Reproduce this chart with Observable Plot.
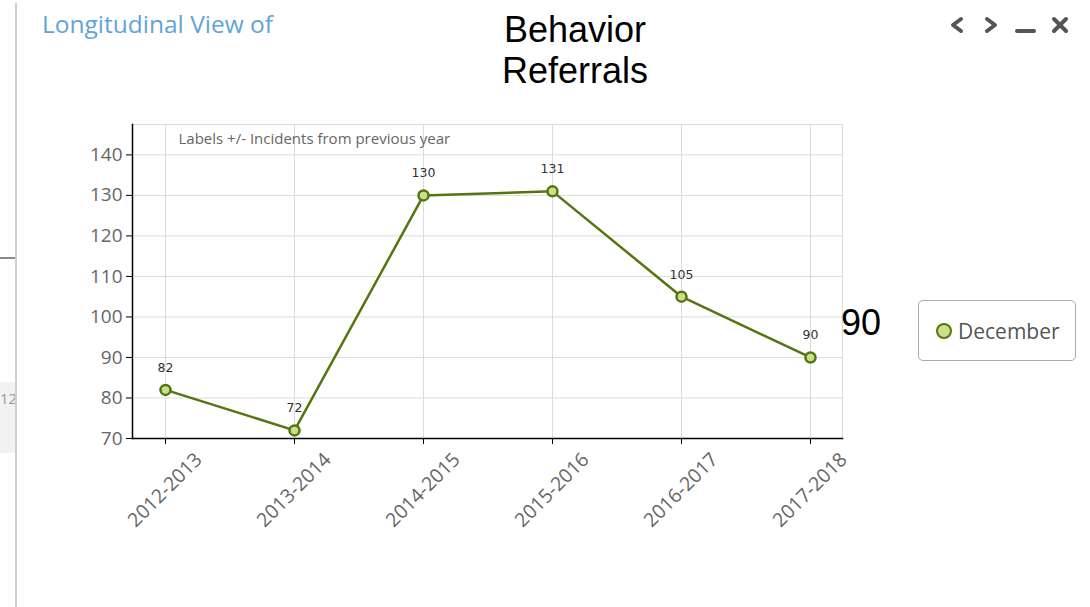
<!DOCTYPE html>
<html>
<head>
<meta charset="utf-8">
<script src="https://cdn.jsdelivr.net/npm/d3@7"></script>
<script src="https://cdn.jsdelivr.net/npm/@observablehq/plot@0.6"></script>
<style>
  html, body { margin: 0; padding: 0; background: #fff; width: 1090px; height: 607px; overflow: hidden; position: relative; }
  #chart { position: absolute; left: 0; top: 0; }
  .abs { position: absolute; white-space: nowrap; }
  #title { left: 42px; top: 8.5px; font: 24.5px/30px "Open Sans", sans-serif; color: #62a3d8; }
  #sub { left: 475px; width: 200px; top: 9px; text-align: center; font: 36px/41px "Liberation Sans", Arial, sans-serif; color: #000; }
  #last { left: 841px; top: 302px; font: 36px/41px "Liberation Sans", Arial, sans-serif; color: #000; }
  #legend { left: 918px; top: 300px; width: 156px; height: 59px; border: 1px solid #aaa; border-radius: 5px; display: flex; align-items: center; box-sizing: content-box; }
  #legend .sw { width: 12px; height: 12px; border-radius: 50%; background: #c8df8c; border: 2.5px solid #557510; margin-left: 17px; margin-right: 6px; }
  #legend .lbl { font: 21px "Open Sans", sans-serif; color: #555; }
  #leftline { left: 15px; top: 3px; width: 2px; height: 604px; background: #cfcfcf; }
  #dash { left: 0; top: 257px; width: 15px; height: 2px; background: #8a8a8a; }
  #box { left: 0; top: 382px; width: 15px; height: 71px; background: #f2f2f2; }
  #box span { position: absolute; left: 0; top: 6px; font: 15px "Open Sans", sans-serif; color: #999; }
  #icons { left: 940px; top: 10px; }
  svg g[aria-label="y-axis tick label"] text { fill: #666; }
</style>
</head>
<body>
<div id="chart"></div>
<div class="abs" id="box"><span>12</span></div>
<div class="abs" id="leftline"></div>
<div class="abs" id="dash"></div>
<div class="abs" id="title">Longitudinal View of</div>
<div class="abs" id="sub">Behavior<br>Referrals</div>
<div class="abs" id="last">90</div>
<div class="abs" id="legend"><div class="sw"></div><div class="lbl">December</div></div>
<svg class="abs" id="icons" width="140" height="30" viewBox="940 10 140 30">
  <g fill="none" stroke="#555" stroke-width="4" stroke-linecap="round" stroke-linejoin="round">
    <polyline points="961,19 953,25 961,31"/>
    <polyline points="987,19 995,25 987,31"/>
    <line x1="1017" y1="31" x2="1034" y2="31"/>
    <line x1="1054" y1="19" x2="1066" y2="31"/>
    <line x1="1066" y1="19" x2="1054" y2="31"/>
  </g>
</svg>
<script>
const years = ["2012-2013", "2013-2014", "2014-2015", "2015-2016", "2016-2017", "2017-2018"];
const december = [82, 72, 130, 131, 105, 90];
const yTicks = [70, 80, 90, 100, 110, 120, 130, 140];
const yDomain = [70, 147.5];
const note = "Labels +/- Incidents from previous year";

const data = years.map((year, i) => ({year, value: december[i]}));
const lineColor = "#557510";
const dotFill = "#c8df8c";

const chart = Plot.plot({
  width: 1090,
  height: 607,
  marginTop: 124,
  marginBottom: 169,
  marginLeft: 132,
  marginRight: 248,
  style: {fontFamily: "Open Sans", background: "transparent", overflow: "visible"},
  x: {type: "point", domain: years, padding: 0.243, label: null},
  y: {domain: yDomain, label: null},
  marks: [
    Plot.frame({stroke: "#dcdcdc"}),
    Plot.gridY({ticks: yTicks, stroke: "#dcdcdc", strokeOpacity: 1}),
    Plot.gridX({stroke: "#dcdcdc", strokeOpacity: 1}),
    Plot.frame({anchor: "left", stroke: "#000", strokeWidth: 1.5}),
    Plot.frame({anchor: "bottom", stroke: "#000", strokeWidth: 1.5}),
    Plot.axisY({ticks: yTicks, tickSize: 6, tickPadding: 4, fontSize: 19, stroke: "#000", label: null}),
    Plot.axisX({tickSize: 6, tickFormat: () => "", stroke: "#000", label: null}),
    Plot.text(years, {x: d => d, text: d => d, frameAnchor: "bottom", dy: 56, dx: 4, rotate: -45, fontSize: 19.5, fill: "#666"}),
    Plot.text([note], {text: d => d, frameAnchor: "top-left", dx: 46, dy: 9, textAnchor: "start", fontSize: 15, fill: "#666"}),
    Plot.line(data, {x: "year", y: "value", stroke: lineColor, strokeWidth: 2.5}),
    Plot.dot(data, {x: "year", y: "value", r: 5, fill: dotFill, stroke: lineColor, strokeWidth: 2.5}),
    Plot.text(data, {x: "year", y: "value", text: d => String(d.value), dy: -22, fontSize: 12.5, fontFamily: "DejaVu Sans", fill: "#333"})
  ]
});
document.getElementById("chart").appendChild(chart);
</script>
</body>
</html>
